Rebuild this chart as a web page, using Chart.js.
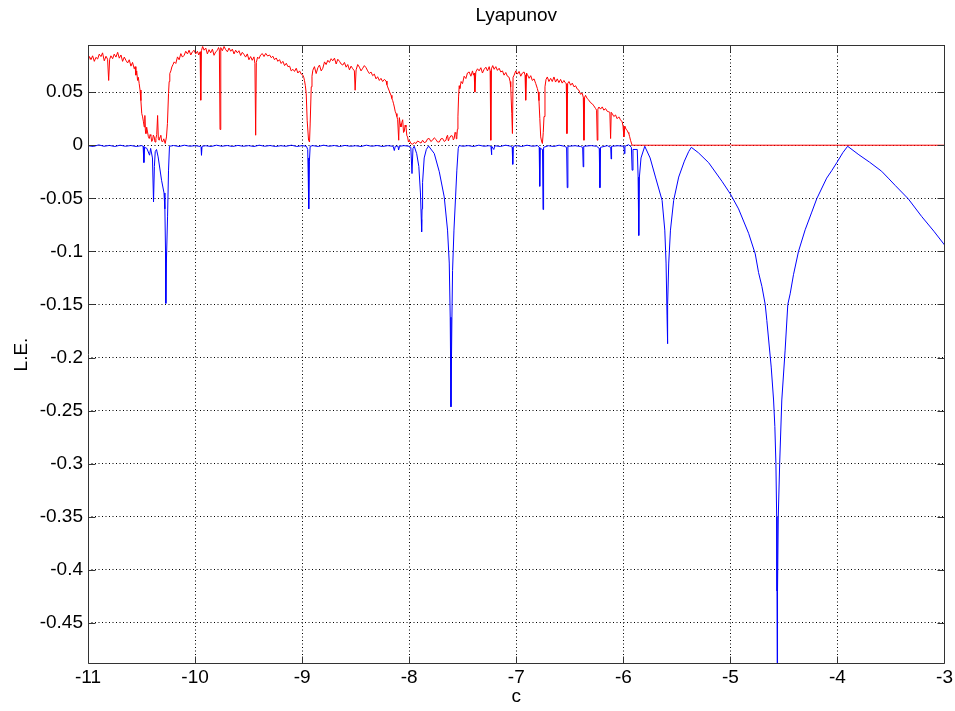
<!DOCTYPE html>
<html><head><meta charset="utf-8">
<script src="https://cdn.jsdelivr.net/npm/chart.js@4/dist/chart.umd.min.js"></script>
<style>html,body{margin:0;padding:0;background:#fff;}</style>
</head><body>
<canvas id="c" width="955" height="711"></canvas>
<script>
const chartTitle = 'Lyapunov';
const xTitle = 'c';
const yTitle = 'L.E.';
const xTickValues = [-11, -10, -9, -8, -7, -6, -5, -4, -3];
const xTickLabels = ['-11', '-10', '-9', '-8', '-7', '-6', '-5', '-4', '-3'];
const yTickValues = [0.05, 0, -0.05, -0.1, -0.15, -0.2, -0.25, -0.3, -0.35, -0.4, -0.45];
const yTickLabels = ['0.05', '0', '-0.05', '-0.1', '-0.15', '-0.2', '-0.25', '-0.3', '-0.35', '-0.4', '-0.45'];

// Red series (upper exponent), [c, L.E.] pairs, by segment
const redSeg1 = [[-11.000,0.0785],[-10.986,0.0835],[-10.972,0.0806],[-10.957,0.0842],[-10.941,0.0790],[-10.926,0.0828],[-10.910,0.0812],[-10.895,0.0858],[-10.879,0.0835],[-10.864,0.0870],[-10.848,0.0795],[-10.832,0.0838],[-10.817,0.0810],[-10.807,0.0610],[-10.798,0.0808],[-10.786,0.0842],[-10.770,0.0815],[-10.755,0.0858],[-10.739,0.0830],[-10.723,0.0875],[-10.708,0.0820],[-10.692,0.0850],[-10.677,0.0790],[-10.661,0.0830],[-10.646,0.0800],[-10.630,0.0775],[-10.615,0.0805],[-10.599,0.0745],[-10.584,0.0780],[-10.568,0.0720],[-10.560,0.0740],[-10.553,0.0660],[-10.545,0.0700],[-10.537,0.0610],[-10.530,0.0640],[-10.522,0.0580]];
const redSeg2 = [[-10.514,0.052],[-10.506,0.042],[-10.498,0.030],[-10.490,0.0267],[-10.482,0.022],[-10.475,0.0172],[-10.469,0.028],[-10.464,0.014],[-10.459,0.011],[-10.452,0.017],[-10.444,0.0125],[-10.436,0.008],[-10.428,0.0063],[-10.420,0.010],[-10.413,0.009],[-10.405,0.0035],[-10.397,0.0047],[-10.390,0.0095],[-10.382,0.0078],[-10.374,0.0030],[-10.366,0.0063],[-10.358,0.0100],[-10.350,0.028],[-10.343,0.006],[-10.335,0.0047],[-10.327,0.008],[-10.320,0.0094],[-10.312,0.004],[-10.304,0.003],[-10.292,0.006],[-10.279,0.0016],[-10.267,0.0078],[-10.258,0.0204],[-10.248,0.0487],[-10.242,0.060],[-10.236,0.0675]];
const redSeg3 = [[-10.226,0.0700],[-10.217,0.0737],[-10.206,0.0760],[-10.195,0.0785],[-10.180,0.0770],[-10.164,0.0832],[-10.149,0.0805],[-10.133,0.0863],[-10.118,0.0830],[-10.102,0.0847],[-10.087,0.0885],[-10.071,0.0860],[-10.056,0.0895],[-10.040,0.0850],[-10.025,0.0880],[-10.009,0.0894],[-9.994,0.0860],[-9.978,0.0885],[-9.966,0.0850],[-9.953,0.0880],[-9.947,0.0424],[-9.941,0.0890],[-9.929,0.0930],[-9.916,0.0895],[-9.900,0.0915],[-9.885,0.0860],[-9.870,0.0900],[-9.854,0.0870],[-9.838,0.0905],[-9.823,0.0847],[-9.807,0.0880],[-9.791,0.0894],[-9.781,0.0920],[-9.773,0.0900],[-9.767,0.0148],[-9.760,0.0920],[-9.745,0.0890],[-9.729,0.0930],[-9.714,0.0900],[-9.698,0.0880],[-9.683,0.0915],[-9.667,0.0885],[-9.652,0.0905],[-9.636,0.0860],[-9.621,0.0895],[-9.605,0.0870],[-9.590,0.0890],[-9.574,0.0845],[-9.559,0.0875],[-9.543,0.0855],[-9.528,0.0830],[-9.512,0.0860],[-9.497,0.0805],[-9.481,0.0835],[-9.466,0.0800],[-9.450,0.0832],[-9.441,0.0770],[-9.434,0.0094],[-9.428,0.0780],[-9.416,0.0830],[-9.403,0.0816],[-9.388,0.0850],[-9.372,0.0863],[-9.356,0.0835],[-9.340,0.0865],[-9.322,0.0840],[-9.304,0.0850],[-9.289,0.0825],[-9.273,0.0838],[-9.258,0.0805],[-9.242,0.0822],[-9.227,0.0790],[-9.211,0.0806],[-9.196,0.0770],[-9.180,0.0790],[-9.164,0.0750],[-9.148,0.0772],[-9.133,0.0740],[-9.117,0.0745],[-9.102,0.0700],[-9.086,0.0715],[-9.071,0.0695],[-9.055,0.0725],[-9.040,0.0680],[-9.024,0.0700],[-9.009,0.0670],[-8.993,0.0660],[-8.985,0.0640],[-8.978,0.0610],[-8.970,0.0560],[-8.962,0.0487],[-8.953,0.0235],[-8.940,0.0047],[-8.931,0.0030],[-8.925,0.0200],[-8.915,0.0550],[-8.908,0.0650],[-8.900,0.0706]];
const redSeg4 = [[-8.885,0.0740],[-8.869,0.0675],[-8.853,0.0730],[-8.838,0.0755],[-8.822,0.0700],[-8.807,0.0725],[-8.791,0.0785],[-8.776,0.0760],[-8.760,0.0800],[-8.745,0.0780],[-8.729,0.0815],[-8.714,0.0795],[-8.698,0.0820],[-8.682,0.0765],[-8.667,0.0810],[-8.651,0.0790],[-8.636,0.0765],[-8.620,0.0755],[-8.605,0.0780],[-8.589,0.0735],[-8.574,0.0760],[-8.558,0.0710],[-8.543,0.0745],[-8.527,0.0720],[-8.512,0.0700],[-8.505,0.0518],[-8.496,0.0710],[-8.481,0.0760],[-8.465,0.0735],[-8.450,0.0700],[-8.434,0.0725],[-8.419,0.0750],[-8.403,0.0730],[-8.388,0.0700],[-8.372,0.0675],[-8.357,0.0690],[-8.341,0.0655],[-8.326,0.0670],[-8.310,0.0625],[-8.295,0.0645],[-8.279,0.0610],[-8.264,0.0630],[-8.248,0.0600],[-8.232,0.0620],[-8.216,0.0605],[-8.208,0.0570],[-8.201,0.0549],[-8.186,0.0510],[-8.170,0.0470],[-8.162,0.0440],[-8.154,0.0420],[-8.146,0.0390],[-8.139,0.0360],[-8.131,0.0320],[-8.123,0.0298],[-8.115,0.0270],[-8.108,0.0240],[-8.098,0.0047],[-8.092,0.0260],[-8.084,0.0200],[-8.077,0.0172],[-8.069,0.0215],[-8.061,0.0240],[-8.053,0.0120],[-8.046,0.0130],[-8.038,0.0190],[-8.030,0.0172],[-8.022,0.0090],[-8.015,0.0078],[-8.007,0.0030],[-7.999,0.0047]];
const redSeg5 = [[-7.984,0.0016],[-7.968,0.0010],[-7.952,0.0025],[-7.937,0.0016],[-7.921,0.0040],[-7.906,0.0030],[-7.890,0.0020],[-7.875,0.0047],[-7.860,0.0025],[-7.844,0.0030],[-7.828,0.0060],[-7.813,0.0063],[-7.798,0.0035],[-7.782,0.0047],[-7.766,0.0070],[-7.751,0.0055],[-7.735,0.0030],[-7.719,0.0030],[-7.704,0.0060],[-7.688,0.0063],[-7.672,0.0035],[-7.657,0.0047],[-7.650,0.0080],[-7.642,0.0094],[-7.634,0.0040],[-7.626,0.0063],[-7.610,0.0090],[-7.595,0.0085],[-7.588,0.0050],[-7.580,0.0063],[-7.572,0.0120],[-7.564,0.0110],[-7.560,0.0060],[-7.555,0.0078],[-7.550,0.0150],[-7.545,0.0267],[-7.539,0.0455],[-7.533,0.0560],[-7.527,0.0534]];
const redSeg6 = [[-7.515,0.0600],[-7.502,0.0580],[-7.487,0.0650],[-7.471,0.0628],[-7.456,0.0680],[-7.440,0.0690],[-7.424,0.0650],[-7.409,0.0700],[-7.400,0.0660],[-7.393,0.0680],[-7.387,0.0500],[-7.378,0.0690],[-7.362,0.0720],[-7.347,0.0700],[-7.331,0.0730],[-7.316,0.0680],[-7.300,0.0715],[-7.284,0.0735],[-7.269,0.0700],[-7.253,0.0740],[-7.244,0.0700],[-7.238,0.0047],[-7.232,0.0720],[-7.220,0.0750],[-7.207,0.0715],[-7.191,0.0740],[-7.176,0.0705],[-7.160,0.0725],[-7.145,0.0690],[-7.129,0.0700],[-7.114,0.0660],[-7.098,0.0685],[-7.083,0.0650],[-7.067,0.0640],[-7.058,0.0600],[-7.052,0.0550],[-7.042,0.0300],[-7.036,0.0110],[-7.030,0.0640],[-7.020,0.0660],[-7.005,0.0700],[-6.989,0.0670],[-6.974,0.0695],[-6.958,0.0650],[-6.943,0.0680],[-6.927,0.0690],[-6.918,0.0660],[-6.912,0.0424],[-6.904,0.0680],[-6.896,0.0665],[-6.880,0.0630],[-6.865,0.0655],[-6.850,0.0610],[-6.834,0.0625],[-6.818,0.0580],[-6.803,0.0534],[-6.795,0.0500],[-6.788,0.0420],[-6.780,0.0250],[-6.772,0.0078],[-6.764,0.0040],[-6.756,0.0016],[-6.748,0.0120],[-6.741,0.0270],[-6.732,0.0550],[-6.722,0.0620],[-6.710,0.0643]];
const redSeg7 = [[-6.695,0.0600],[-6.679,0.0630],[-6.664,0.0600],[-6.648,0.0643],[-6.633,0.0595],[-6.617,0.0625],[-6.602,0.0590],[-6.586,0.0620],[-6.571,0.0585],[-6.555,0.0610],[-6.544,0.0590],[-6.533,0.0580],[-6.527,0.0110],[-6.520,0.0580],[-6.508,0.0600],[-6.492,0.0565],[-6.477,0.0585],[-6.461,0.0550],[-6.446,0.0560],[-6.431,0.0530],[-6.415,0.0518],[-6.400,0.0480],[-6.384,0.0490],[-6.374,0.0450],[-6.368,0.0047],[-6.362,0.0450],[-6.353,0.0470],[-6.338,0.0440],[-6.322,0.0424],[-6.306,0.0400],[-6.290,0.0390],[-6.275,0.0370],[-6.259,0.0345],[-6.250,0.0330],[-6.244,0.0047],[-6.238,0.0340],[-6.228,0.0360],[-6.213,0.0340],[-6.197,0.0361],[-6.182,0.0330],[-6.166,0.0345],[-6.151,0.0320],[-6.135,0.0314],[-6.126,0.0310],[-6.119,0.0063],[-6.113,0.0310],[-6.104,0.0298],[-6.089,0.0270],[-6.073,0.0285],[-6.058,0.0250],[-6.042,0.0267],[-6.027,0.0240],[-6.011,0.0220],[-6.003,0.0180],[-5.995,0.0078],[-5.986,0.0180],[-5.975,0.0150],[-5.964,0.0140],[-5.956,0.0120],[-5.949,0.0110],[-5.941,0.0080],[-5.933,0.0047],[-5.925,0.0020],[-5.918,0.0]];
const redSeg8 = [[-5.5,0.0],[-5.01,0.0],[-5.0,0.0008],[-4.99,0.0],[-4.5,0.0],[-3.0,0.0]];

// Blue series (lower exponent), [c, L.E.] pairs, by segment
const blueSeg1 = [[-11.0,-0.0005],[-10.95,-0.0012],[-10.9,0.0003],[-10.85,-0.001],[-10.8,-0.0002],[-10.75,-0.0012],[-10.7,0.0],[-10.65,-0.001],[-10.6,-0.0003],[-10.55,-0.0012],[-10.5,-0.0004],[-10.485,-0.001],[-10.478,-0.0163],[-10.472,-0.002],[-10.45,-0.003],[-10.425,-0.0094],[-10.415,-0.003],[-10.398,-0.012],[-10.388,-0.0534],[-10.38,-0.02],[-10.372,-0.006],[-10.36,-0.004],[-10.345,-0.011],[-10.313,-0.033],[-10.29,-0.045],[-10.282,-0.06],[-10.276,-0.10],[-10.273,-0.149],[-10.268,-0.111],[-10.257,-0.0675],[-10.248,-0.0235],[-10.239,-0.001]];
const blueSeg2 = [[-10.2,-0.0003],[-10.15,-0.0012],[-10.1,0.0],[-10.05,-0.001],[-10.0,-0.0004],[-9.95,-0.0012],[-9.944,-0.002],[-9.94,-0.0094],[-9.935,-0.001],[-9.9,-0.0005],[-9.85,-0.0012],[-9.8,0.0],[-9.75,-0.001],[-9.7,-0.0003],[-9.65,-0.0012],[-9.6,-0.0002],[-9.55,-0.001],[-9.5,-0.0004],[-9.45,-0.0012],[-9.4,0.0],[-9.35,-0.001],[-9.3,-0.0003],[-9.25,-0.0012],[-9.2,-0.0005],[-9.15,-0.001],[-9.1,0.0],[-9.05,-0.0012],[-9.0,-0.0004],[-8.96,-0.001],[-8.948,-0.004],[-8.943,-0.03],[-8.94,-0.012],[-8.937,-0.060],[-8.932,-0.015],[-8.925,-0.001],[-8.9,-0.0004],[-8.85,-0.0012],[-8.8,0.0],[-8.75,-0.001],[-8.7,-0.0003],[-8.65,-0.0012],[-8.6,-0.0002],[-8.55,-0.001],[-8.5,-0.0005],[-8.45,-0.0012],[-8.4,0.0],[-8.35,-0.001],[-8.3,-0.0003],[-8.25,-0.0012],[-8.2,-0.0004],[-8.15,-0.001],[-8.139,-0.005],[-8.13,-0.001],[-8.105,-0.0008],[-8.099,-0.0045],[-8.09,-0.001],[-8.05,-0.0004],[-8.0,-0.001]];
const blueSeg3 = [[-7.985,-0.002],[-7.974,-0.0267],[-7.965,-0.003],[-7.953,-0.001],[-7.93,-0.008],[-7.91,-0.02],[-7.895,-0.045],[-7.887,-0.07],[-7.884,-0.0816],[-7.88,-0.06],[-7.875,-0.035],[-7.86,-0.012],[-7.84,-0.004],[-7.819,-0.0008],[-7.766,-0.0078],[-7.719,-0.025],[-7.673,-0.0487],[-7.642,-0.080],[-7.626,-0.111],[-7.617,-0.162],[-7.61,-0.2464],[-7.601,-0.162],[-7.595,-0.118],[-7.582,-0.080],[-7.567,-0.0487],[-7.555,-0.0235],[-7.542,-0.003],[-7.533,-0.0003]];
const blueSeg4 = [[-7.5,-0.001],[-7.45,-0.0004],[-7.4,-0.0012],[-7.35,0.0],[-7.3,-0.001],[-7.25,-0.0004],[-7.236,-0.002],[-7.232,-0.009],[-7.228,-0.001],[-7.21,-0.004],[-7.2,-0.0005],[-7.15,-0.0012],[-7.1,0.0],[-7.05,-0.001],[-7.038,-0.002],[-7.033,-0.018],[-7.028,-0.001],[-7.0,-0.0004],[-6.95,-0.0012],[-6.9,0.0],[-6.85,-0.001],[-6.8,-0.0004],[-6.786,-0.002],[-6.781,-0.0387],[-6.776,-0.003],[-6.755,-0.004],[-6.75,-0.0606],[-6.745,-0.002],[-6.7,-0.0005],[-6.65,-0.0012],[-6.6,0.0],[-6.55,-0.001],[-6.53,-0.002],[-6.524,-0.040],[-6.518,-0.001],[-6.45,-0.0005],[-6.4,-0.0012],[-6.38,-0.002],[-6.375,-0.0204],[-6.37,-0.001],[-6.3,-0.0004],[-6.25,-0.001],[-6.225,-0.003],[-6.219,-0.040],[-6.213,-0.002],[-6.15,-0.0004],[-6.118,-0.002],[-6.114,-0.013],[-6.11,-0.001],[-6.05,-0.0005],[-5.995,-0.001],[-5.99,-0.008],[-5.985,-0.001],[-5.95,0.0005],[-5.925,-0.002],[-5.918,-0.0235],[-5.91,-0.004],[-5.87,-0.004],[-5.862,-0.03],[-5.856,-0.085],[-5.85,-0.03],[-5.835,-0.012],[-5.8,-0.001]];
const blueSeg5 = [[-5.75,-0.012],[-5.7,-0.030],[-5.638,-0.052],[-5.613,-0.080],[-5.601,-0.111],[-5.592,-0.160],[-5.589,-0.187],[-5.584,-0.150],[-5.576,-0.111],[-5.56,-0.080],[-5.53,-0.052],[-5.483,-0.030],[-5.43,-0.015],[-5.39,-0.006],[-5.365,-0.002],[-5.3,-0.007],[-5.203,-0.0165],[-5.079,-0.034],[-5.0,-0.046],[-4.924,-0.060],[-4.83,-0.083],[-4.768,-0.1024],[-4.737,-0.120],[-4.706,-0.133],[-4.675,-0.150],[-4.66,-0.165],[-4.619,-0.209],[-4.597,-0.240],[-4.585,-0.265],[-4.575,-0.30],[-4.568,-0.35],[-4.565,-0.42],[-4.563,-0.4887],[-4.56,-0.42],[-4.553,-0.35],[-4.54,-0.30],[-4.52,-0.240],[-4.489,-0.193],[-4.464,-0.150],[-4.442,-0.140],[-4.411,-0.122],[-4.364,-0.100],[-4.302,-0.0797],[-4.24,-0.063],[-4.194,-0.0505],[-4.101,-0.031],[-4.054,-0.024],[-4.007,-0.0165],[-3.95,-0.007],[-3.905,-0.001],[-3.8,-0.009],[-3.7,-0.016],[-3.588,-0.0245],[-3.526,-0.031],[-3.46,-0.038],[-3.339,-0.0505],[-3.215,-0.067],[-3.1,-0.081],[-3.0,-0.094]];

const redSeries = [...redSeg1, ...redSeg2, ...redSeg3, ...redSeg4, ...redSeg5, ...redSeg6, ...redSeg7, ...redSeg8];
const blueSeries = [...blueSeg1, ...blueSeg2, ...blueSeg3, ...blueSeg4, ...blueSeg5];

const FONT = "'Liberation Sans', Arial, Helvetica, sans-serif";
const FONT_SIZE = 19;
const AXIS_COLOR = '#333';
Chart.defaults.color = '#000';
Chart.defaults.font.family = FONT;

const framePlugin = {
  id: 'frame',
  afterDatasetsDraw(chart) {
    const {ctx, chartArea: a, scales: {x, y}} = chart;
    const L = Math.round(a.left) + 0.5, R = Math.round(a.right) - 0.5;
    const T = Math.round(a.top) + 0.5, B = Math.round(a.bottom) - 0.5;
    const tl = 7;
    const clampX = p => Math.min(Math.max(p, L), R);
    const clampY = p => Math.min(Math.max(p, T), B);
    ctx.save();
    ctx.strokeStyle = AXIS_COLOR;
    ctx.lineWidth = 1;
    ctx.setLineDash([]);
    ctx.beginPath();
    ctx.rect(L, T, R - L, B - T);
    xTickValues.forEach(v => {
      const p = clampX(Math.round(x.getPixelForValue(v)) + 0.5);
      ctx.moveTo(p, B); ctx.lineTo(p, B - tl);
      ctx.moveTo(p, T); ctx.lineTo(p, T + tl);
    });
    yTickValues.forEach(v => {
      const p = clampY(Math.round(y.getPixelForValue(v)) + 0.5);
      ctx.moveTo(L, p); ctx.lineTo(L + tl, p);
      ctx.moveTo(R, p); ctx.lineTo(R - tl, p);
    });
    ctx.stroke();
    ctx.restore();
  },
  afterDraw(chart) {
    const {ctx, chartArea: a} = chart;
    ctx.save();
    ctx.fillStyle = '#000';
    ctx.font = FONT_SIZE + 'px ' + FONT;
    ctx.textAlign = 'center';
    ctx.textBaseline = 'middle';
    ctx.fillText(chartTitle, (a.left + a.right) / 2, 16);
    ctx.restore();
  }
};

new Chart(document.getElementById('c'), {
  type: 'line',
  data: {
    datasets: [
      {
        label: 'blue',
        data: blueSeries.map(p => ({x: p[0], y: p[1]})),
        borderColor: '#0000ff',
        borderWidth: 1,
        pointRadius: 0,
        tension: 0,
        fill: false
      },
      {
        label: 'red',
        data: redSeries.map(p => ({x: p[0], y: p[1]})),
        borderColor: '#ff0000',
        borderWidth: 1,
        pointRadius: 0,
        tension: 0,
        fill: false
      }
    ]
  },
  options: {
    responsive: false,
    animation: false,
    devicePixelRatio: 1,
    layout: {padding: {left: 0, right: 8, top: 45, bottom: 0}},
    plugins: {
      legend: {display: false},
      tooltip: {enabled: false},
      title: {display: false}
    },
    scales: {
      x: {
        type: 'linear',
        min: -11,
        max: -3,
        afterBuildTicks: s => { s.ticks = xTickValues.map(v => ({value: v})); },
        afterFit: s => { s.height = 47; },
        ticks: {
          autoSkip: false,
          maxRotation: 0,
          padding: 2,
          color: '#000',
          font: {size: FONT_SIZE, family: FONT},
          callback: (v, i) => xTickLabels[i]
        },
        grid: {color: '#000', lineWidth: 1, drawTicks: false},
        border: {display: false, dash: [1, 2.5]},
        title: {
          display: true,
          text: xTitle,
          color: '#000',
          font: {size: FONT_SIZE, family: FONT},
          padding: {top: 0, bottom: 3}
        }
      },
      y: {
        type: 'linear',
        min: -0.4887,
        max: 0.0944,
        afterBuildTicks: s => { s.ticks = yTickValues.map(v => ({value: v})); },
        afterFit: s => { s.width = 88; },
        ticks: {
          autoSkip: false,
          padding: 5,
          color: '#000',
          font: {size: FONT_SIZE, family: FONT},
          callback: (v, i) => yTickLabels[i]
        },
        grid: {color: '#000', lineWidth: 1, drawTicks: false},
        border: {display: false, dash: [1, 2.5]},
        title: {
          display: true,
          text: yTitle,
          color: '#000',
          font: {size: FONT_SIZE, family: FONT},
          padding: {top: 10, bottom: 0}
        }
      }
    }
  },
  plugins: [framePlugin]
});
</script>
</body></html>
